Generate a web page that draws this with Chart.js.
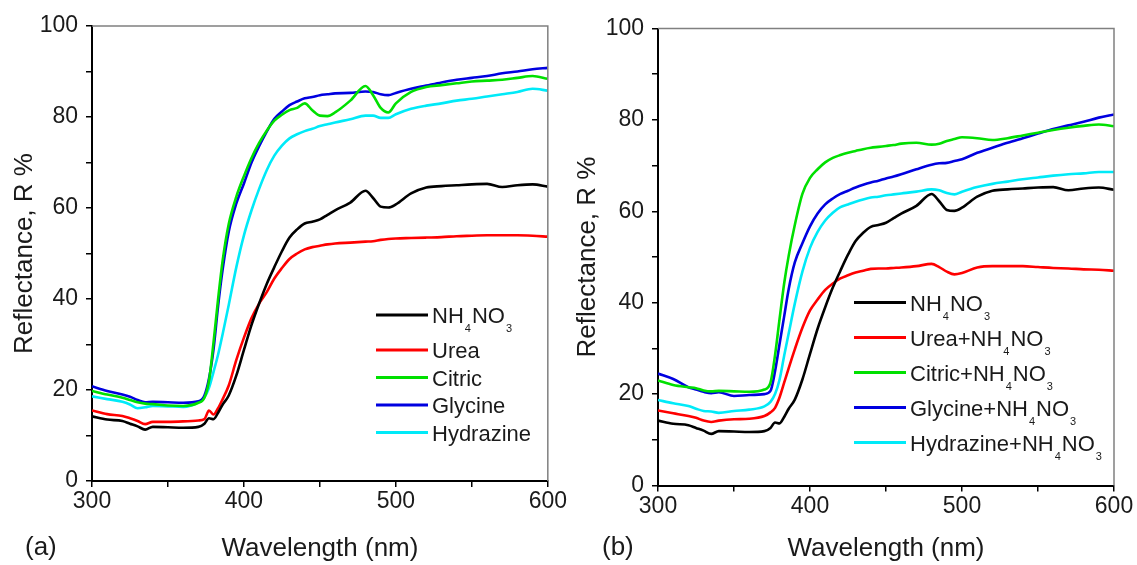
<!DOCTYPE html>
<html>
<head>
<meta charset="utf-8">
<script src="https://cdn.jsdelivr.net/npm/chart.js@4.4.1/dist/chart.umd.min.js"></script>
<style>
  html, body { margin: 0; padding: 0; background: #fff; }
  #wrap { position: relative; width: 1137px; height: 565px; }
  canvas { position: absolute; top: 0; }
  #chartA { left: 0; }
  #chartB { left: 568px; }
</style>
</head>
<body>
<div id="wrap">
  <canvas id="chartA" width="568" height="565"></canvas>
  <canvas id="chartB" width="569" height="565"></canvas>
</div>
<script>
const FONT = '"Liberation Sans", Arial, sans-serif';
Chart.defaults.font.family = FONT;
Chart.defaults.color = '#1a1a1a';

// wavelength, nm (shared by both panels)
const wavelength = [300, 310, 320, 325, 330, 335, 340, 350, 360, 370, 374, 377, 380, 383, 386, 390,
  395, 400, 405, 410, 415, 420, 425, 430, 435, 440, 445, 450, 455, 460,
  470, 480, 485, 490, 495, 500, 510, 520, 530, 540, 550, 560, 570, 580, 590, 600];

// reflectance R %, panel (a)
const nh4no3 = [14.2, 13.5, 13.2, 12.6, 12.0, 11.3, 11.9, 11.8, 11.7, 11.9, 12.6, 13.8, 13.6, 15.0, 16.8, 18.8,
  23.2, 28.8, 34.3, 39.0, 43.3, 47.0, 50.5, 53.5, 55.3, 56.6, 57.0, 57.5, 58.5, 59.5,
  61.2, 63.8, 62.2, 60.3, 60.1, 60.8, 63.2, 64.5, 64.8, 65.0, 65.2, 65.3, 64.6, 65.0, 65.2, 64.7];
const urea = [15.5, 14.7, 14.3, 13.8, 13.2, 12.5, 13.0, 13.0, 13.1, 13.3, 13.6, 15.5, 14.6, 16.0, 18.0, 21.0,
  26.6, 31.5, 35.8, 39.0, 41.5, 44.5, 46.8, 48.8, 50.0, 50.9, 51.4, 51.7, 52.0, 52.2,
  52.4, 52.6, 52.7, 53.0, 53.2, 53.3, 53.4, 53.5, 53.6, 53.8, 53.9, 54.0, 54.0, 54.0, 53.9, 53.7];
const citric = [19.8, 19.0, 18.3, 17.8, 17.3, 17.0, 16.9, 16.6, 16.5, 17.2, 18.3, 22.0, 30.5, 40.0, 48.5, 56.5,
  62.5, 67.0, 71.0, 74.3, 77.0, 79.2, 80.5, 81.5, 82.0, 83.0, 81.5, 80.3, 80.2, 81.0,
  83.6, 86.8, 84.8, 82.0, 81.0, 83.0, 85.5, 86.6, 87.0, 87.4, 87.8, 88.0, 88.2, 88.6, 89.0, 88.4];
const glycine = [20.8, 19.8, 19.0, 18.5, 17.8, 17.3, 17.4, 17.3, 17.2, 17.5, 18.8, 22.5, 29.0, 38.5, 46.5, 54.8,
  61.0, 65.4, 70.0, 73.6, 76.8, 79.6, 81.2, 82.6, 83.4, 84.1, 84.4, 84.8, 85.0, 85.2,
  85.3, 85.6, 85.5, 85.0, 84.8, 85.3, 86.2, 86.9, 87.6, 88.2, 88.6, 89.0, 89.6, 90.0, 90.5, 90.8];
const hydrazine = [18.6, 18.0, 17.4, 16.8, 16.0, 16.2, 16.5, 16.4, 16.3, 17.3, 18.4, 20.5, 24.0, 27.8, 32.3, 38.7,
  47.0, 54.0, 59.5, 64.2, 68.3, 71.5, 73.7, 75.3, 76.2, 76.9, 77.4, 78.0, 78.4, 78.8,
  79.5, 80.3, 80.3, 79.8, 79.8, 80.6, 81.8, 82.5, 83.0, 83.6, 84.0, 84.5, 85.0, 85.5, 86.2, 85.8];

// reflectance R %, panel (b)
const ureaMix = [16.4, 15.8, 15.2, 14.8, 14.2, 13.9, 14.2, 14.5, 14.6, 15.2, 16.0, 17.0, 19.3, 22.5, 25.7, 29.8,
  34.5, 38.3, 40.7, 42.8, 44.2, 45.3, 46.0, 46.6, 47.0, 47.4, 47.5, 47.5, 47.6, 47.7,
  48.0, 48.5, 47.8, 46.8, 46.2, 46.5, 47.7, 48.0, 48.0, 48.0, 47.8, 47.6, 47.5, 47.3, 47.2, 47.0];
const citricMix = [23.0, 22.0, 21.5, 21.3, 20.8, 20.6, 20.7, 20.6, 20.5, 21.0, 22.5, 28.5, 36.5, 44.2, 50.3, 57.0,
  63.8, 67.3, 69.2, 70.7, 71.7, 72.3, 72.8, 73.2, 73.6, 73.9, 74.1, 74.3, 74.5, 74.8,
  75.0, 74.6, 74.8, 75.4, 75.8, 76.2, 76.0, 75.6, 76.0, 76.6, 77.2, 77.8, 78.3, 78.7, 79.0, 78.6];
const glycineMix = [24.5, 23.3, 21.5, 21.0, 20.5, 20.2, 20.4, 19.6, 19.8, 20.0, 20.7, 25.0, 31.0, 37.0, 43.0, 48.8,
  53.0, 56.7, 59.5, 61.5, 62.8, 63.8, 64.5, 65.2, 65.8, 66.3, 66.7, 67.2, 67.6, 68.1,
  69.2, 70.2, 70.5, 70.6, 71.0, 71.4, 72.8, 73.9, 75.0, 76.0, 77.0, 78.0, 78.8, 79.6, 80.5, 81.2];
const hydrazineMix = [18.7, 18.0, 17.4, 16.8, 16.3, 16.2, 15.9, 16.3, 16.6, 17.3, 18.3, 20.0, 23.2, 28.4, 33.3, 39.8,
  46.8, 52.0, 55.5, 58.0, 59.7, 60.9, 61.5, 62.1, 62.6, 63.0, 63.2, 63.5, 63.7, 63.9,
  64.3, 64.8, 64.6, 64.0, 63.7, 64.3, 65.3, 66.0, 66.5, 67.0, 67.4, 67.8, 68.1, 68.3, 68.6, 68.6];

const labelsA = ['NH₄NO₃', 'Urea', 'Citric', 'Glycine', 'Hydrazine'];
const labelsB = ['NH₄NO₃', 'Urea+NH₄NO₃', 'Citric+NH₄NO₃', 'Glycine+NH₄NO₃', 'Hydrazine+NH₄NO₃'];
const colors = ['#000000', '#ff0000', '#00e000', '#0000e0', '#00eaf8'];

const SUB = { '₀': '0', '₁': '1', '₂': '2', '₃': '3', '₄': '4', '₅': '5', '₆': '6', '₇': '7', '₈': '8', '₉': '9' };

// text with subscript digits drawn smaller and lower
function drawRich(ctx, text, x, y, size) {
  let buf = '';
  const flush = () => {
    if (!buf) return;
    ctx.font = size + 'px ' + FONT;
    ctx.fillText(buf, x, y);
    x += ctx.measureText(buf).width;
    buf = '';
  };
  for (const ch of text) {
    if (SUB[ch]) {
      flush();
      ctx.font = Math.round(size * 0.5) + 'px ' + FONT;
      ctx.fillText(SUB[ch], x + 1, y + 9);
      x += ctx.measureText(SUB[ch]).width + 2;
    } else {
      buf += ch;
    }
  }
  flush();
}

const decor = {
  id: 'decor',
  afterDraw(chart, args, o) {
    const { ctx, chartArea: a } = chart;
    ctx.save();
    // grey frame on top and right
    ctx.strokeStyle = '#808080';
    ctx.lineWidth = 1.5;
    ctx.beginPath();
    ctx.moveTo(a.left, a.top);
    ctx.lineTo(a.right, a.top);
    ctx.lineTo(a.right, a.bottom);
    ctx.stroke();

    // legend inside the plot
    let y = a.top + o.legendY;
    const x = a.left + o.legendX;
    chart.data.datasets.forEach(ds => {
      ctx.strokeStyle = ds.borderColor;
      ctx.lineWidth = 3;
      ctx.beginPath();
      ctx.moveTo(x, y);
      ctx.lineTo(x + 52, y);
      ctx.stroke();
      ctx.fillStyle = '#1a1a1a';
      ctx.textBaseline = 'alphabetic';
      ctx.textAlign = 'left';
      drawRich(ctx, ds.label, x + 56, y + 8, 22);
      const hasSub = [...ds.label].some(c => SUB[c]);
      y += 27.5 + (hasSub ? 7.5 : 0);
    });

    // panel letter
    ctx.fillStyle = '#1a1a1a';
    ctx.font = '26px ' + FONT;
    ctx.textBaseline = 'middle';
    ctx.fillText(o.letter, o.letterX, 548);
    ctx.restore();
  }
};

function makeChart(id, labels, series, cfg) {
  return new Chart(document.getElementById(id), {
    type: 'line',
    data: {
      datasets: series.map((vals, i) => ({
        label: labels[i],
        data: wavelength.map((w, j) => ({ x: w, y: vals[j] })),
        borderColor: colors[i],
        borderWidth: 2.6,
        pointRadius: 0,
        cubicInterpolationMode: 'monotone'
      }))
    },
    options: {
      responsive: false,
      animation: false,
      layout: { padding: { top: cfg.padTop, right: cfg.padRight, left: 0, bottom: 0 } },
      plugins: {
        legend: { display: false },
        tooltip: { enabled: false },
        decor: cfg.decor
      },
      scales: {
        x: {
          type: 'linear', min: 300, max: 600,
          ticks: {
            stepSize: 50, autoSkip: false, maxRotation: 0, padding: 1,
            font: { size: 23 },
            callback: v => (v % 100 === 0 ? v : '')
          },
          grid: { drawOnChartArea: false, tickLength: 6, color: '#000', lineWidth: 1.5 },
          border: { color: '#000', width: 2 },
          title: { display: true, text: 'Wavelength (nm)', font: { size: 26 }, padding: { top: 0, bottom: 1 } },
          afterFit: s => { s.height = cfg.xHeight; }
        },
        y: {
          min: 0, max: 100,
          ticks: {
            stepSize: 10, autoSkip: false, padding: 8,
            font: { size: 23 },
            callback: v => (v % 20 === 0 ? v : '')
          },
          grid: { drawOnChartArea: false, tickLength: 6, color: '#000', lineWidth: 1.5 },
          border: { color: '#000', width: 2 },
          title: { display: true, text: 'Reflectance, R %', font: { size: 26 }, padding: { top: cfg.yTitlePad, bottom: 0 } },
          afterFit: s => { s.width = cfg.yWidth; }
        }
      }
    },
    plugins: [decor]
  });
}

makeChart('chartA', labelsA, [nh4no3, urea, citric, glycine, hydrazine], {
  padTop: 26, padRight: 20, yWidth: 92, xHeight: 84, yTitlePad: 9,
  decor: { legendX: 284, legendY: 289, letter: '(a)', letterX: 25 }
});

makeChart('chartB', labelsB, [nh4no3, ureaMix, citricMix, glycineMix, hydrazineMix], {
  padTop: 28.5, padRight: 23, yWidth: 90, xHeight: 79.5, yTitlePad: 4,
  decor: { legendX: 196, legendY: 274, letter: '(b)', letterX: 34 }
});
</script>
</body>
</html>
